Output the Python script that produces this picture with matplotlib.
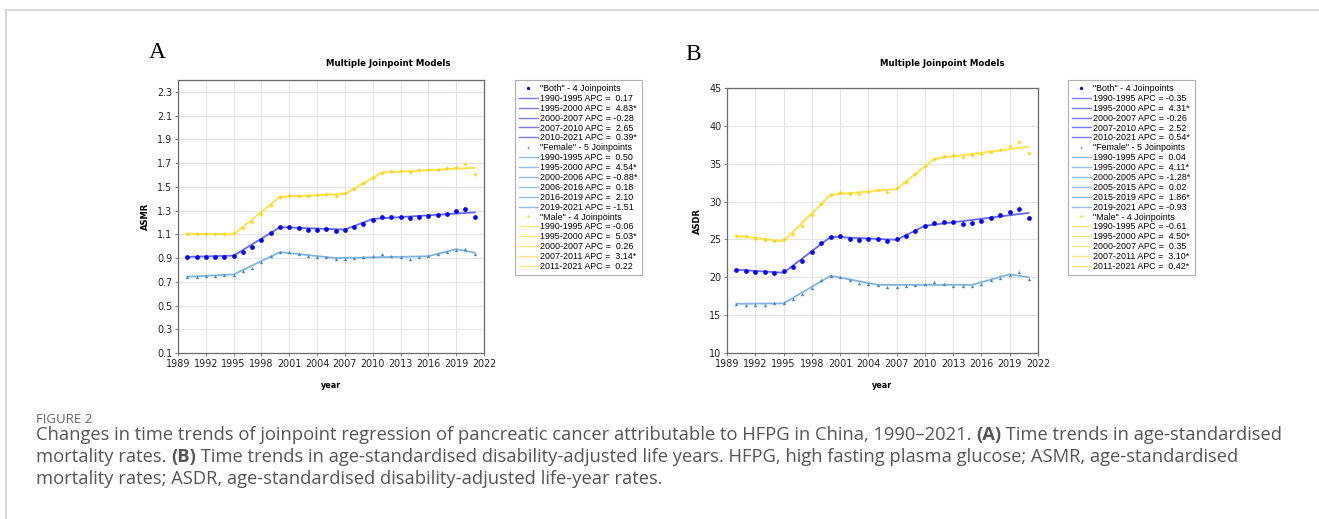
import numpy as np
import matplotlib.pyplot as plt
from matplotlib.lines import Line2D

# Observed rates, 1990-2021
years = np.arange(1990, 2022)

asmr_both = [0.91, 0.91, 0.91, 0.91, 0.91, 0.92, 0.95, 0.99, 1.05, 1.11, 1.16, 1.16,
             1.15, 1.14, 1.14, 1.145, 1.125, 1.14, 1.16, 1.19, 1.22, 1.25, 1.25, 1.245,
             1.235, 1.245, 1.255, 1.265, 1.275, 1.295, 1.31, 1.245]
asmr_female = [0.74, 0.74, 0.745, 0.75, 0.755, 0.76, 0.79, 0.82, 0.87, 0.92, 0.95, 0.95,
               0.93, 0.92, 0.91, 0.905, 0.89, 0.89, 0.90, 0.905, 0.92, 0.93, 0.915, 0.905,
               0.895, 0.905, 0.915, 0.935, 0.95, 0.97, 0.98, 0.935]
asmr_male = [1.10, 1.10, 1.10, 1.10, 1.10, 1.115, 1.15, 1.205, 1.275, 1.345, 1.415, 1.43,
             1.42, 1.42, 1.43, 1.44, 1.42, 1.445, 1.485, 1.53, 1.575, 1.62, 1.635, 1.635,
             1.625, 1.64, 1.645, 1.645, 1.655, 1.67, 1.695, 1.61]

asdr_both = [21.0, 20.85, 20.7, 20.65, 20.6, 20.8, 21.3, 22.2, 23.3, 24.5, 25.35, 25.4,
             25.1, 24.9, 25.0, 25.0, 24.75, 25.0, 25.5, 26.05, 26.75, 27.2, 27.35, 27.25,
             27.05, 27.2, 27.4, 27.85, 28.2, 28.6, 29.0, 27.85]
asdr_female = [16.52, 16.4, 16.35, 16.4, 16.55, 16.55, 17.15, 17.75, 18.65, 19.6, 20.2, 20.0,
               19.6, 19.3, 19.1, 19.0, 18.7, 18.75, 18.85, 18.95, 19.15, 19.35, 19.1, 18.9,
               18.8, 18.85, 19.15, 19.65, 19.95, 20.35, 20.65, 19.8]
asdr_male = [25.5, 25.4, 25.1, 24.9, 24.8, 25.1, 25.75, 26.8, 28.2, 29.65, 30.9, 31.2,
             31.05, 31.05, 31.25, 31.5, 31.25, 31.75, 32.6, 33.6, 34.75, 35.65, 36.05, 36.15,
             35.9, 36.15, 36.25, 36.6, 36.85, 37.35, 37.9, 36.35]

# Joinpoint fits: knot years, fitted values at knots, APC per segment
asmr_both_knots = [1990, 1995, 2000, 2007, 2010, 2021]
asmr_both_fit = [0.91, 0.92, 1.16, 1.14, 1.23, 1.285]
asmr_both_apc = ["0.17", "4.83*", "-0.28", "2.65", "0.39*"]
asmr_female_knots = [1990, 1995, 2000, 2006, 2016, 2019, 2021]
asmr_female_fit = [0.742, 0.762, 0.95, 0.90, 0.915, 0.975, 0.945]
asmr_female_apc = ["0.50", "4.54*", "-0.88*", "0.18", "2.10", "-1.51"]
asmr_male_knots = [1990, 1995, 2000, 2007, 2011, 2021]
asmr_male_fit = [1.105, 1.10, 1.415, 1.44, 1.62, 1.66]
asmr_male_apc = ["-0.06", "5.03*", "0.26", "3.14*", "0.22"]

asdr_both_knots = [1990, 1995, 2000, 2007, 2010, 2021]
asdr_both_fit = [21.0, 20.6, 25.35, 24.95, 26.8, 28.5]
asdr_both_apc = ["-0.35", "4.31*", "-0.26", "2.52", "0.54*"]
asdr_female_knots = [1990, 1995, 2000, 2005, 2015, 2019, 2021]
asdr_female_fit = [16.5, 16.55, 20.2, 19.0, 19.0, 20.4, 20.0]
asdr_female_apc = ["0.04", "4.11*", "-1.28*", "0.02", "1.86*", "-0.93"]
asdr_male_knots = [1990, 1995, 2000, 2007, 2011, 2021]
asdr_male_fit = [25.5, 24.75, 30.9, 31.65, 35.65, 37.25]
asdr_male_apc = ["-0.61", "4.50*", "0.35", "3.10*", "0.42*"]

# styles: (name, point colour, line colour, legend line colour, marker, size)
styles = [
    ("Both", "#0000ff", "#6666ff", "#7a7aff", "o", 3.4),
    ("Female", "#4189c7", "#80b4df", "#92c0e6", "^", 2.4),
    ("Male", "#ffd21a", "#ffe040", "#ffe680", "P", 2.8),
]

fig = plt.figure(figsize=(13.19, 5.19), dpi=100)
W, H = 1319, 519


def fbox(left, top, right, bottom):
    return [left / W, 1 - bottom / H, (right - left) / W, (bottom - top) / H]


def panel(box, series, ylim, yticks, ylabel, ylab_x, letter, letter_xy, title_x, leg_x):
    ax = fig.add_axes(box)
    for (name, pc, lc, _, mk, ms), (obs, kn, fit, _apc) in zip(styles, series):
        ax.plot(kn, fit, color=lc, lw=1.3, zorder=2)
        ax.plot(years, obs, ls="none", marker=mk, ms=ms, color=pc, mew=0, zorder=3)
    ax.set_xlim(1989, 2022)
    ax.set_xticks(np.arange(1989, 2023, 3))
    ax.set_ylim(*ylim)
    ax.set_yticks(yticks)
    ax.grid(True, color="#e4e4e4", lw=0.8)
    ax.set_axisbelow(True)
    for sp in ax.spines.values():
        sp.set_color("#6a6a6a")
        sp.set_linewidth(0.9)
    ax.tick_params(labelsize=6.9, length=2, color="#888888", labelcolor="#222222", pad=2)
    ax.set_xlabel("year", fontsize=5.8, fontweight="bold", labelpad=9)
    bb = ax.get_position()
    fig.text(ylab_x / W, bb.y0 + bb.height / 2, ylabel, rotation=90, fontsize=6,
             fontweight="bold", ha="center", va="center")
    fig.text(letter_xy[0] / W, 1 - letter_xy[1] / H, letter, family="Liberation Serif",
             fontsize=17, ha="center", va="center")
    fig.text(title_x / W, 1 - 63 / H, "Multiple Joinpoint Models", fontsize=6.2,
             fontweight="bold", ha="center", va="center")

    handles, labels = [], []
    for (name, pc, lc, llc, mk, ms), (obs, kn, fit, apc) in zip(styles, series):
        handles.append(Line2D([], [], ls="none", marker=mk, ms=ms * 0.7, color=pc, mew=0))
        labels.append(f'"{name}" - {len(kn) - 2} Joinpoints')
        for k0, k1, a in zip(kn[:-1], kn[1:], apc):
            handles.append(Line2D([], [], color=llc, lw=1.0))
            sep = " " if a.startswith("-") else "  "
            labels.append(f"{k0}-{k1} APC ={sep}{a}")
    leg = fig.legend(handles, labels, loc="upper left", bbox_to_anchor=(leg_x / W, 1 - 80 / H),
                     prop={"family": "Liberation Sans", "size": 6.4}, handlelength=2.1,
                     handletextpad=0.3, labelspacing=0.1, borderpad=0.45,
                     fancybox=False, framealpha=1, edgecolor="#b0b0b0", borderaxespad=0)
    leg.get_frame().set_linewidth(0.8)
    return ax


panel(fbox(178, 80, 484, 353),
      [(asmr_both, asmr_both_knots, asmr_both_fit, asmr_both_apc),
       (asmr_female, asmr_female_knots, asmr_female_fit, asmr_female_apc),
       (asmr_male, asmr_male_knots, asmr_male_fit, asmr_male_apc)],
      (0.1, 2.4), np.arange(0.1, 2.31, 0.2), "ASMR", 145, "A", (157, 53), 388, 515)

panel(fbox(727, 88, 1038, 353),
      [(asdr_both, asdr_both_knots, asdr_both_fit, asdr_both_apc),
       (asdr_female, asdr_female_knots, asdr_female_fit, asdr_female_apc),
       (asdr_male, asdr_male_knots, asdr_male_fit, asdr_male_apc)],
      (10, 45), np.arange(10, 46, 5), "ASDR", 697, "B", (693, 55), 942, 1068)

# page frame and caption
bg = fig.add_axes([0, 0, 1, 1], zorder=-5)
bg.set_xlim(0, W)
bg.set_ylim(H, 0)
bg.axis("off")
bg.plot([6, W], [10, 10], color="#d0d0d0", lw=1.2)
bg.plot([6, 6], [10, H], color="#d0d0d0", lw=1.2)

cap_font = "Open Sans"
cap_color = "#555555"
cap_size = 13.2
bg.text(36, 423, "FIGURE 2", family=cap_font, fontsize=9.5, color="#666666", va="baseline")

caption_lines = [
    [("Changes in time trends of joinpoint regression of pancreatic cancer attributable "
      "to HFPG in China, 1990\u20132021. ", "normal"), ("(A)", "bold"),
     (" Time trends in age-standardised", "normal")],
    [("mortality rates. ", "normal"), ("(B)", "bold"),
     (" Time trends in age-standardised disability-adjusted life years. HFPG, high fasting "
      "plasma glucose; ASMR, age-standardised", "normal")],
    [("mortality rates; ASDR, age-standardised disability-adjusted life-year rates.", "normal")],
]
baselines = [440, 462, 484]
for line, yb in zip(caption_lines, baselines):
    prev = None
    for txt, wt in line:
        if prev is None:
            prev = bg.text(36, yb, txt, family=cap_font, fontsize=cap_size, color=cap_color,
                           fontweight=wt, va="baseline")
        else:
            prev = bg.annotate(txt, xy=(1, 0), xycoords=prev, va="bottom", ha="left",
                               family=cap_font, fontsize=cap_size, color=cap_color,
                               fontweight=wt)

fig.savefig("out.png", dpi=100)
